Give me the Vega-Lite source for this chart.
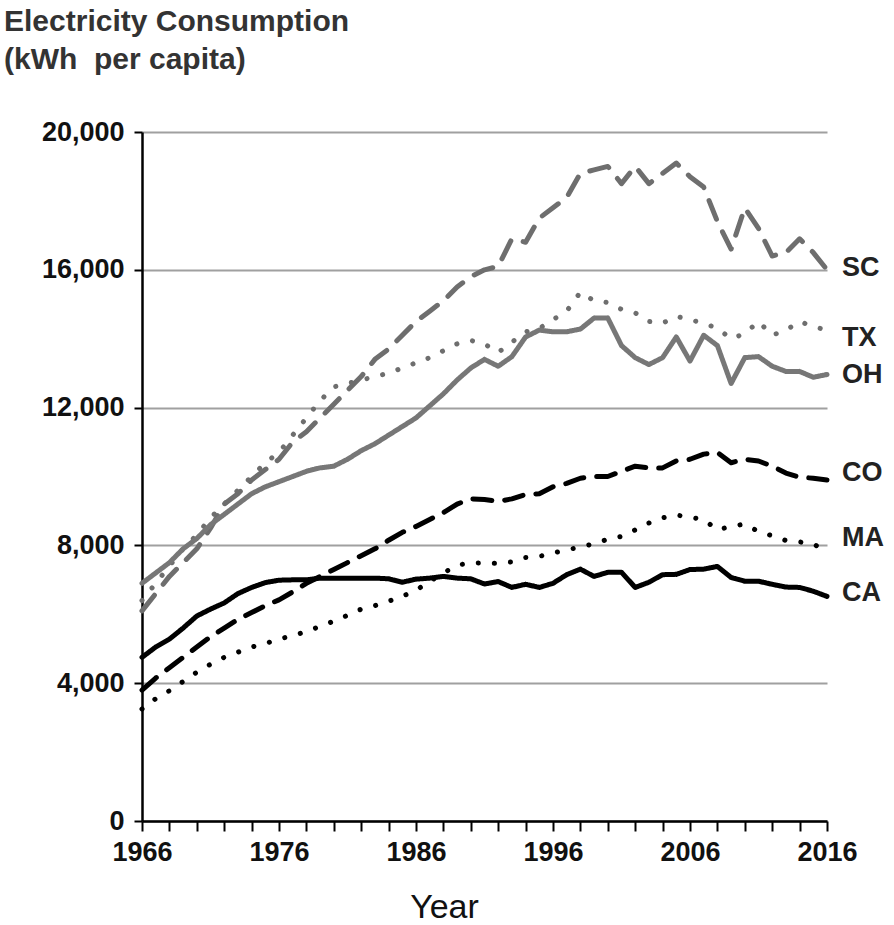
{
  "$schema": "https://vega.github.io/schema/vega-lite/v6.json",
  "autosize": "none",
  "width": 685,
  "height": 689,
  "padding": {"left": 142, "top": 132, "right": 67, "bottom": 104},
  "background": "white",
  "config": {
    "view": {"stroke": null},
    "font": "Liberation Sans"
  },
  "title": {
    "text": ["Electricity Consumption", "(kWh\u00a0 per capita)"],
    "anchor": "start",
    "frame": "group",
    "dx": -138,
    "offset": 43,
    "fontSize": 30,
    "fontWeight": "bold",
    "color": "#333333",
    "lineHeight": 38,
    "font": "Liberation Sans"
  },
  "datasets": {
    "series": [
      {"state":"SC","year":1966,"kwh":6100},{"state":"SC","year":1967,"kwh":6600},{"state":"SC","year":1968,"kwh":7100},{"state":"SC","year":1969,"kwh":7500},{"state":"SC","year":1970,"kwh":7900},{"state":"SC","year":1971,"kwh":8500},{"state":"SC","year":1972,"kwh":9200},{"state":"SC","year":1973,"kwh":9500},{"state":"SC","year":1974,"kwh":9900},{"state":"SC","year":1975,"kwh":10200},{"state":"SC","year":1976,"kwh":10500},{"state":"SC","year":1977,"kwh":11000},{"state":"SC","year":1978,"kwh":11300},{"state":"SC","year":1979,"kwh":11700},{"state":"SC","year":1980,"kwh":12100},{"state":"SC","year":1981,"kwh":12500},{"state":"SC","year":1982,"kwh":12900},{"state":"SC","year":1983,"kwh":13400},{"state":"SC","year":1984,"kwh":13700},{"state":"SC","year":1985,"kwh":14100},{"state":"SC","year":1986,"kwh":14500},{"state":"SC","year":1987,"kwh":14800},{"state":"SC","year":1988,"kwh":15100},{"state":"SC","year":1989,"kwh":15500},{"state":"SC","year":1990,"kwh":15800},{"state":"SC","year":1991,"kwh":16000},{"state":"SC","year":1992,"kwh":16100},{"state":"SC","year":1993,"kwh":16900},{"state":"SC","year":1994,"kwh":16800},{"state":"SC","year":1995,"kwh":17500},{"state":"SC","year":1996,"kwh":17800},{"state":"SC","year":1997,"kwh":18100},{"state":"SC","year":1998,"kwh":18800},{"state":"SC","year":1999,"kwh":18900},{"state":"SC","year":2000,"kwh":19000},{"state":"SC","year":2001,"kwh":18500},{"state":"SC","year":2002,"kwh":19000},{"state":"SC","year":2003,"kwh":18500},{"state":"SC","year":2004,"kwh":18800},{"state":"SC","year":2005,"kwh":19100},{"state":"SC","year":2006,"kwh":18700},{"state":"SC","year":2007,"kwh":18400},{"state":"SC","year":2008,"kwh":17400},{"state":"SC","year":2009,"kwh":16600},{"state":"SC","year":2010,"kwh":17800},{"state":"SC","year":2011,"kwh":17200},{"state":"SC","year":2012,"kwh":16400},{"state":"SC","year":2013,"kwh":16500},{"state":"SC","year":2014,"kwh":16900},{"state":"SC","year":2015,"kwh":16500},{"state":"SC","year":2016,"kwh":16000},
      {"state":"TX","year":1966,"kwh":6400},{"state":"TX","year":1967,"kwh":6900},{"state":"TX","year":1968,"kwh":7400},{"state":"TX","year":1969,"kwh":7900},{"state":"TX","year":1970,"kwh":8300},{"state":"TX","year":1971,"kwh":8800},{"state":"TX","year":1972,"kwh":9200},{"state":"TX","year":1973,"kwh":9600},{"state":"TX","year":1974,"kwh":10000},{"state":"TX","year":1975,"kwh":10400},{"state":"TX","year":1976,"kwh":10700},{"state":"TX","year":1977,"kwh":11200},{"state":"TX","year":1978,"kwh":11700},{"state":"TX","year":1979,"kwh":12200},{"state":"TX","year":1980,"kwh":12600},{"state":"TX","year":1981,"kwh":12700},{"state":"TX","year":1982,"kwh":12800},{"state":"TX","year":1983,"kwh":12900},{"state":"TX","year":1984,"kwh":13000},{"state":"TX","year":1985,"kwh":13150},{"state":"TX","year":1986,"kwh":13300},{"state":"TX","year":1987,"kwh":13450},{"state":"TX","year":1988,"kwh":13650},{"state":"TX","year":1989,"kwh":13850},{"state":"TX","year":1990,"kwh":13950},{"state":"TX","year":1991,"kwh":13850},{"state":"TX","year":1992,"kwh":13600},{"state":"TX","year":1993,"kwh":13900},{"state":"TX","year":1994,"kwh":14200},{"state":"TX","year":1995,"kwh":14300},{"state":"TX","year":1996,"kwh":14550},{"state":"TX","year":1997,"kwh":14800},{"state":"TX","year":1998,"kwh":15350},{"state":"TX","year":1999,"kwh":15100},{"state":"TX","year":2000,"kwh":15050},{"state":"TX","year":2001,"kwh":14850},{"state":"TX","year":2002,"kwh":14750},{"state":"TX","year":2003,"kwh":14500},{"state":"TX","year":2004,"kwh":14450},{"state":"TX","year":2005,"kwh":14650},{"state":"TX","year":2006,"kwh":14550},{"state":"TX","year":2007,"kwh":14450},{"state":"TX","year":2008,"kwh":14300},{"state":"TX","year":2009,"kwh":14000},{"state":"TX","year":2010,"kwh":14150},{"state":"TX","year":2011,"kwh":14500},{"state":"TX","year":2012,"kwh":14100},{"state":"TX","year":2013,"kwh":14250},{"state":"TX","year":2014,"kwh":14500},{"state":"TX","year":2015,"kwh":14350},{"state":"TX","year":2016,"kwh":14250},
      {"state":"OH","year":1966,"kwh":6900},{"state":"OH","year":1967,"kwh":7200},{"state":"OH","year":1968,"kwh":7500},{"state":"OH","year":1969,"kwh":7900},{"state":"OH","year":1970,"kwh":8200},{"state":"OH","year":1971,"kwh":8600},{"state":"OH","year":1972,"kwh":8900},{"state":"OH","year":1973,"kwh":9200},{"state":"OH","year":1974,"kwh":9500},{"state":"OH","year":1975,"kwh":9700},{"state":"OH","year":1976,"kwh":9850},{"state":"OH","year":1977,"kwh":10000},{"state":"OH","year":1978,"kwh":10150},{"state":"OH","year":1979,"kwh":10250},{"state":"OH","year":1980,"kwh":10300},{"state":"OH","year":1981,"kwh":10500},{"state":"OH","year":1982,"kwh":10750},{"state":"OH","year":1983,"kwh":10950},{"state":"OH","year":1984,"kwh":11200},{"state":"OH","year":1985,"kwh":11450},{"state":"OH","year":1986,"kwh":11700},{"state":"OH","year":1987,"kwh":12050},{"state":"OH","year":1988,"kwh":12400},{"state":"OH","year":1989,"kwh":12800},{"state":"OH","year":1990,"kwh":13150},{"state":"OH","year":1991,"kwh":13400},{"state":"OH","year":1992,"kwh":13200},{"state":"OH","year":1993,"kwh":13480},{"state":"OH","year":1994,"kwh":14050},{"state":"OH","year":1995,"kwh":14250},{"state":"OH","year":1996,"kwh":14200},{"state":"OH","year":1997,"kwh":14200},{"state":"OH","year":1998,"kwh":14280},{"state":"OH","year":1999,"kwh":14600},{"state":"OH","year":2000,"kwh":14600},{"state":"OH","year":2001,"kwh":13800},{"state":"OH","year":2002,"kwh":13450},{"state":"OH","year":2003,"kwh":13250},{"state":"OH","year":2004,"kwh":13450},{"state":"OH","year":2005,"kwh":14050},{"state":"OH","year":2006,"kwh":13350},{"state":"OH","year":2007,"kwh":14100},{"state":"OH","year":2008,"kwh":13800},{"state":"OH","year":2009,"kwh":12700},{"state":"OH","year":2010,"kwh":13450},{"state":"OH","year":2011,"kwh":13480},{"state":"OH","year":2012,"kwh":13200},{"state":"OH","year":2013,"kwh":13050},{"state":"OH","year":2014,"kwh":13050},{"state":"OH","year":2015,"kwh":12880},{"state":"OH","year":2016,"kwh":12960},
      {"state":"CO","year":1966,"kwh":3800},{"state":"CO","year":1967,"kwh":4150},{"state":"CO","year":1968,"kwh":4450},{"state":"CO","year":1969,"kwh":4750},{"state":"CO","year":1970,"kwh":5050},{"state":"CO","year":1971,"kwh":5350},{"state":"CO","year":1972,"kwh":5600},{"state":"CO","year":1973,"kwh":5850},{"state":"CO","year":1974,"kwh":6050},{"state":"CO","year":1975,"kwh":6250},{"state":"CO","year":1976,"kwh":6420},{"state":"CO","year":1977,"kwh":6650},{"state":"CO","year":1978,"kwh":6900},{"state":"CO","year":1979,"kwh":7100},{"state":"CO","year":1980,"kwh":7300},{"state":"CO","year":1981,"kwh":7500},{"state":"CO","year":1982,"kwh":7700},{"state":"CO","year":1983,"kwh":7900},{"state":"CO","year":1984,"kwh":8150},{"state":"CO","year":1985,"kwh":8380},{"state":"CO","year":1986,"kwh":8550},{"state":"CO","year":1987,"kwh":8750},{"state":"CO","year":1988,"kwh":8950},{"state":"CO","year":1989,"kwh":9200},{"state":"CO","year":1990,"kwh":9350},{"state":"CO","year":1991,"kwh":9330},{"state":"CO","year":1992,"kwh":9280},{"state":"CO","year":1993,"kwh":9350},{"state":"CO","year":1994,"kwh":9480},{"state":"CO","year":1995,"kwh":9500},{"state":"CO","year":1996,"kwh":9700},{"state":"CO","year":1997,"kwh":9800},{"state":"CO","year":1998,"kwh":9950},{"state":"CO","year":1999,"kwh":10000},{"state":"CO","year":2000,"kwh":10000},{"state":"CO","year":2001,"kwh":10150},{"state":"CO","year":2002,"kwh":10300},{"state":"CO","year":2003,"kwh":10250},{"state":"CO","year":2004,"kwh":10250},{"state":"CO","year":2005,"kwh":10450},{"state":"CO","year":2006,"kwh":10500},{"state":"CO","year":2007,"kwh":10650},{"state":"CO","year":2008,"kwh":10700},{"state":"CO","year":2009,"kwh":10400},{"state":"CO","year":2010,"kwh":10500},{"state":"CO","year":2011,"kwh":10450},{"state":"CO","year":2012,"kwh":10300},{"state":"CO","year":2013,"kwh":10100},{"state":"CO","year":2014,"kwh":9980},{"state":"CO","year":2015,"kwh":9950},{"state":"CO","year":2016,"kwh":9900},
      {"state":"MA","year":1966,"kwh":3250},{"state":"MA","year":1967,"kwh":3550},{"state":"MA","year":1968,"kwh":3780},{"state":"MA","year":1969,"kwh":4050},{"state":"MA","year":1970,"kwh":4320},{"state":"MA","year":1971,"kwh":4550},{"state":"MA","year":1972,"kwh":4750},{"state":"MA","year":1973,"kwh":4900},{"state":"MA","year":1974,"kwh":5050},{"state":"MA","year":1975,"kwh":5150},{"state":"MA","year":1976,"kwh":5280},{"state":"MA","year":1977,"kwh":5380},{"state":"MA","year":1978,"kwh":5500},{"state":"MA","year":1979,"kwh":5650},{"state":"MA","year":1980,"kwh":5800},{"state":"MA","year":1981,"kwh":5970},{"state":"MA","year":1982,"kwh":6150},{"state":"MA","year":1983,"kwh":6250},{"state":"MA","year":1984,"kwh":6380},{"state":"MA","year":1985,"kwh":6520},{"state":"MA","year":1986,"kwh":6700},{"state":"MA","year":1987,"kwh":6950},{"state":"MA","year":1988,"kwh":7200},{"state":"MA","year":1989,"kwh":7420},{"state":"MA","year":1990,"kwh":7500},{"state":"MA","year":1991,"kwh":7480},{"state":"MA","year":1992,"kwh":7480},{"state":"MA","year":1993,"kwh":7520},{"state":"MA","year":1994,"kwh":7650},{"state":"MA","year":1995,"kwh":7680},{"state":"MA","year":1996,"kwh":7780},{"state":"MA","year":1997,"kwh":7870},{"state":"MA","year":1998,"kwh":7950},{"state":"MA","year":1999,"kwh":8050},{"state":"MA","year":2000,"kwh":8180},{"state":"MA","year":2001,"kwh":8260},{"state":"MA","year":2002,"kwh":8450},{"state":"MA","year":2003,"kwh":8650},{"state":"MA","year":2004,"kwh":8800},{"state":"MA","year":2005,"kwh":8880},{"state":"MA","year":2006,"kwh":8820},{"state":"MA","year":2007,"kwh":8750},{"state":"MA","year":2008,"kwh":8450},{"state":"MA","year":2009,"kwh":8550},{"state":"MA","year":2010,"kwh":8620},{"state":"MA","year":2011,"kwh":8400},{"state":"MA","year":2012,"kwh":8280},{"state":"MA","year":2013,"kwh":8140},{"state":"MA","year":2014,"kwh":8100},{"state":"MA","year":2015,"kwh":8050},{"state":"MA","year":2016,"kwh":7800},
      {"state":"CA","year":1966,"kwh":4750},{"state":"CA","year":1967,"kwh":5050},{"state":"CA","year":1968,"kwh":5280},{"state":"CA","year":1969,"kwh":5600},{"state":"CA","year":1970,"kwh":5950},{"state":"CA","year":1971,"kwh":6150},{"state":"CA","year":1972,"kwh":6330},{"state":"CA","year":1973,"kwh":6600},{"state":"CA","year":1974,"kwh":6780},{"state":"CA","year":1975,"kwh":6920},{"state":"CA","year":1976,"kwh":6990},{"state":"CA","year":1977,"kwh":7000},{"state":"CA","year":1978,"kwh":7000},{"state":"CA","year":1979,"kwh":7050},{"state":"CA","year":1980,"kwh":7050},{"state":"CA","year":1981,"kwh":7050},{"state":"CA","year":1982,"kwh":7050},{"state":"CA","year":1983,"kwh":7050},{"state":"CA","year":1984,"kwh":7030},{"state":"CA","year":1985,"kwh":6930},{"state":"CA","year":1986,"kwh":7020},{"state":"CA","year":1987,"kwh":7050},{"state":"CA","year":1988,"kwh":7100},{"state":"CA","year":1989,"kwh":7050},{"state":"CA","year":1990,"kwh":7030},{"state":"CA","year":1991,"kwh":6880},{"state":"CA","year":1992,"kwh":6950},{"state":"CA","year":1993,"kwh":6780},{"state":"CA","year":1994,"kwh":6870},{"state":"CA","year":1995,"kwh":6780},{"state":"CA","year":1996,"kwh":6900},{"state":"CA","year":1997,"kwh":7150},{"state":"CA","year":1998,"kwh":7310},{"state":"CA","year":1999,"kwh":7100},{"state":"CA","year":2000,"kwh":7220},{"state":"CA","year":2001,"kwh":7220},{"state":"CA","year":2002,"kwh":6780},{"state":"CA","year":2003,"kwh":6930},{"state":"CA","year":2004,"kwh":7150},{"state":"CA","year":2005,"kwh":7160},{"state":"CA","year":2006,"kwh":7300},{"state":"CA","year":2007,"kwh":7310},{"state":"CA","year":2008,"kwh":7390},{"state":"CA","year":2009,"kwh":7070},{"state":"CA","year":2010,"kwh":6960},{"state":"CA","year":2011,"kwh":6960},{"state":"CA","year":2012,"kwh":6870},{"state":"CA","year":2013,"kwh":6790},{"state":"CA","year":2014,"kwh":6780},{"state":"CA","year":2015,"kwh":6670},{"state":"CA","year":2016,"kwh":6520}
    ],
    "labels": [
      {"state":"SC","year":2016,"kwh":16050},
      {"state":"TX","year":2016,"kwh":14020},
      {"state":"OH","year":2016,"kwh":12950},
      {"state":"CO","year":2016,"kwh":10100},
      {"state":"MA","year":2016,"kwh":8215},
      {"state":"CA","year":2016,"kwh":6620}
    ]
  },
  "layer": [
    {
      "data": {"name": "series"},
      "mark": {"type": "line", "strokeWidth": 5, "strokeCap": "round", "strokeJoin": "round"},
      "encoding": {
        "x": {
          "field": "year", "type": "quantitative",
          "scale": {"domain": [1966, 2016], "nice": false, "zero": false},
          "axis": {
            "title": "Year",
            "values": [1966,1968,1970,1972,1974,1976,1978,1980,1982,1984,1986,1988,1990,1992,1994,1996,1998,2000,2002,2004,2006,2008,2010,2012,2014,2016],
            "tickCount": 60,
            "labelExpr": "(datum.value - 1966) % 10 == 0 ? format(datum.value, 'd') : ''",
            "grid": false,
            "domainColor": "#000000", "domainWidth": 2.5,
            "tickColor": "#000000", "tickWidth": 2, "tickSize": 10,
            "labelFont": "Liberation Sans", "labelFontSize": 27, "labelFontWeight": "bold", "labelColor": "#111111",
            "labelPadding": 8, "labelOverlap": false, "labelFlush": false,
            "titleFont": "Liberation Sans", "titleFontSize": 34, "titleFontWeight": "normal", "titleColor": "#111111",
            "titleX": 302, "titleY": 96, "titleBaseline": "alphabetic"
          }
        },
        "y": {
          "field": "kwh", "type": "quantitative",
          "scale": {"domain": [0, 20000], "nice": false},
          "axis": {
            "title": null,
            "values": [0, 4000, 8000, 12000, 16000, 20000],
            "format": ",d",
            "grid": true, "gridColor": "#a0a0a0", "gridWidth": 2,
            "domainColor": "#000000", "domainWidth": 2.5,
            "tickColor": "#000000", "tickWidth": 2, "tickSize": 8,
            "labelFont": "Liberation Sans", "labelFontSize": 27, "labelFontWeight": "bold", "labelColor": "#111111",
            "labelPadding": 10
          }
        },
        "color": {
          "field": "state", "type": "nominal",
          "scale": {"domain": ["SC","TX","OH","CO","MA","CA"], "range": ["#6e6e6e","#6e6e6e","#777777","#000000","#000000","#000000"]},
          "legend": null
        },
        "strokeDash": {
          "field": "state", "type": "nominal",
          "scale": {"domain": ["SC","TX","OH","CO","MA","CA"], "range": [[20,14],[0.1,16],[1,0],[19,13],[0.1,16],[1,0]]},
          "legend": null
        }
      }
    },
    {
      "data": {"name": "labels"},
      "mark": {"type": "text", "align": "left", "baseline": "middle", "dx": 15, "fontSize": 27, "fontWeight": "bold", "font": "Liberation Sans", "color": "#222222"},
      "encoding": {
        "x": {"field": "year", "type": "quantitative"},
        "y": {"field": "kwh", "type": "quantitative"},
        "text": {"field": "state"}
      }
    }
  ]
}
